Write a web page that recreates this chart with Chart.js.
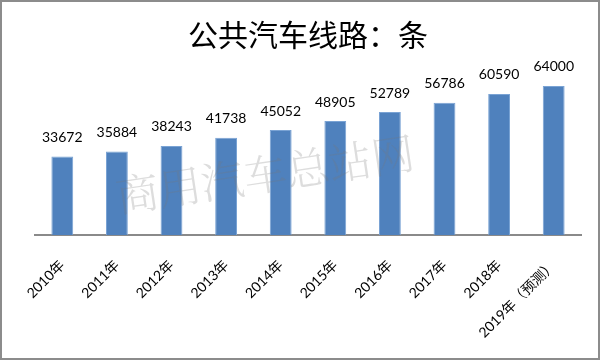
<!DOCTYPE html>
<html>
<head>
<meta charset="utf-8">
<script src="https://cdn.jsdelivr.net/npm/chart.js@4/dist/chart.umd.min.js"></script>
<style>
  html, body { margin: 0; padding: 0; background: #fff; }
  canvas { display: block; }
</style>
</head>
<body>
<canvas id="chart" width="600" height="360"></canvas>
<script>
const years = ['2010年', '2011年', '2012年', '2013年', '2014年', '2015年', '2016年', '2017年', '2018年', '2019年（预测）'];
const routes = [33672, 35884, 38243, 41738, 45052, 48905, 52789, 56786, 60590, 64000];
const titleText = '公共汽车线路：条';
const watermarkText = '商用汽车总站网';

// value labels above each bar
const valueLabels = {
  id: 'valueLabels',
  afterDatasetsDraw(chart) {
    const ctx = chart.ctx;
    const meta = chart.getDatasetMeta(0);
    ctx.save();
    ctx.font = '14px Lato, "Open Sans", sans-serif';
    ctx.fillStyle = '#000';
    ctx.textAlign = 'center';
    ctx.textBaseline = 'middle';
    meta.data.forEach((bar, i) => {
      ctx.fillText(String(routes[i]), bar.x, bar.y - 19);
    });
    ctx.restore();
  }
};

// faint watermark + grey frame
const decor = {
  id: 'decor',
  afterDraw(chart) {
    const ctx = chart.ctx;
    ctx.save();
    ctx.translate(265, 174);
    ctx.rotate(-8.5 * Math.PI / 180);
    ctx.font = '300 43px "Noto Serif CJK SC", "Noto Sans CJK SC", serif';
    ctx.fillStyle = 'rgba(120,120,120,0.25)';
    ctx.textAlign = 'center';
    ctx.textBaseline = 'middle';
    ctx.fillText(watermarkText, 0, 0);
    ctx.restore();

    ctx.save();
    ctx.strokeStyle = '#8c8c8c';
    ctx.lineWidth = 2;
    ctx.strokeRect(1, 1, chart.width - 2, chart.height - 2);
    ctx.restore();
  }
};

new Chart(document.getElementById('chart'), {
  type: 'bar',
  data: {
    labels: years,
    datasets: [{
      data: routes,
      backgroundColor: '#4F81BD',
      borderColor: '#7AA3D4',
      borderWidth: 1,
      barPercentage: 0.4,
      categoryPercentage: 1
    }]
  },
  options: {
    responsive: false,
    animation: false,
    layout: { padding: { left: 35, right: 19, top: 0, bottom: 0 } },
    plugins: {
      legend: { display: false },
      tooltip: { enabled: false },
      title: {
        display: true,
        text: titleText,
        color: '#000',
        font: { family: '"Noto Sans CJK SC", sans-serif', size: 30, weight: 'normal', lineHeight: 1.2 },
        padding: { top: 17, bottom: 19 }
      }
    },
    scales: {
      x: {
        grid: { display: false, drawTicks: false },
        border: { display: true, color: '#8a8a8a', width: 2 },
        ticks: {
          color: '#000',
          font: { family: 'Lato, "Noto Sans CJK SC", sans-serif', size: 14 },
          minRotation: 45,
          maxRotation: 45,
          padding: 22
        },
        afterFit(scale) {
          scale.height = 125;
          scale.paddingLeft = 0;
          scale.paddingRight = 0;
        }
      },
      y: {
        display: false,
        min: 0,
        max: 70000
      }
    }
  },
  plugins: [valueLabels, decor]
});
</script>
</body>
</html>
